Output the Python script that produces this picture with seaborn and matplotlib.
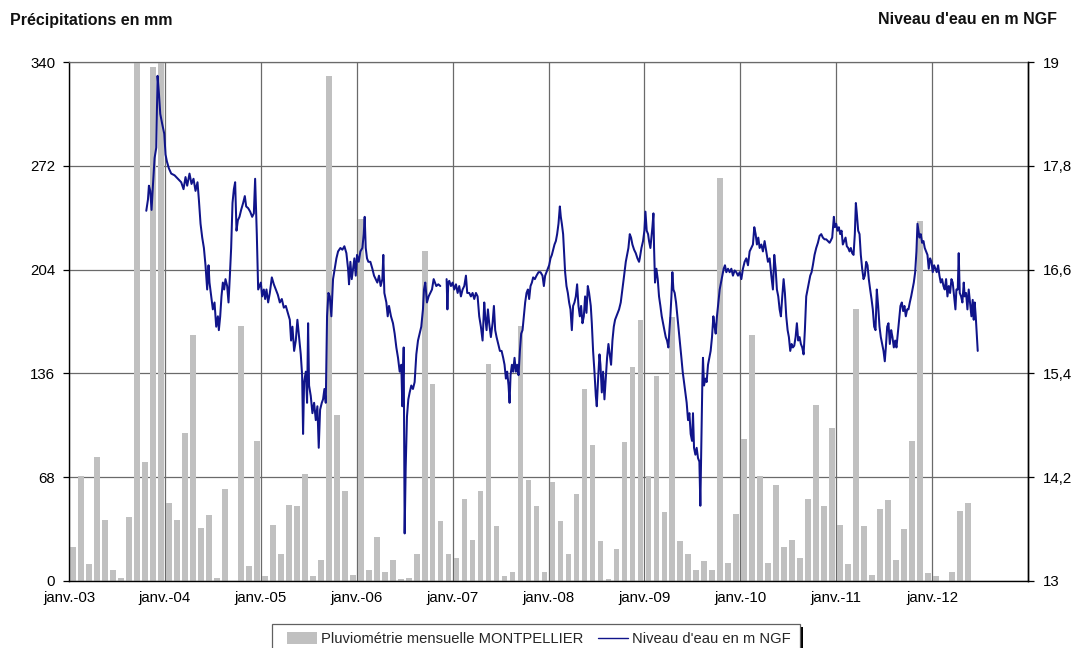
import numpy as np
import pandas as pd
import matplotlib
matplotlib.use("Agg")
import matplotlib.pyplot as plt
import seaborn as sns
from matplotlib.patches import Patch, Rectangle
from matplotlib.lines import Line2D

# ---------------- DATA ----------------
# Monthly rainfall at Montpellier (mm), Jan 2003 -> May 2012
rain_2003 = [22, 69, 11, 81, 40, 7, 2, 42, 340, 78, 337, 340]
rain_2004 = [51, 40, 97, 161, 35, 43, 2, 60, 0, 167, 10, 92]
rain_2005 = [3, 37, 18, 50, 49, 70, 3, 14, 331, 109, 59, 4]
rain_2006 = [237, 7, 29, 6, 14, 1, 2, 18, 216, 129, 39, 18]
rain_2007 = [15, 54, 27, 59, 142, 36, 3, 6, 167, 66, 49, 6]
rain_2008 = [65, 39, 18, 57, 126, 89, 26, 1, 21, 91, 140, 171]
rain_2009 = [69, 134, 45, 173, 26, 18, 7, 13, 7, 264, 12, 44]
rain_2010 = [93, 161, 69, 12, 63, 22, 27, 15, 54, 115, 49, 100]
rain_2011 = [37, 11, 178, 36, 4, 47, 53, 14, 34, 92, 236, 5]
rain_2012 = [3, 0, 6, 46, 51]
rainfall = (rain_2003 + rain_2004 + rain_2005 + rain_2006 + rain_2007 +
            rain_2008 + rain_2009 + rain_2010 + rain_2011 + rain_2012)

# Water level (m NGF); time in months elapsed since 1 Jan 2003 (NaN = data gap)
level_month = [
    9.67, 9.88, 10.0, 10.17, 10.33, 10.5, 10.71, 10.92, 11.08, 11.25, 11.42, 11.67, 11.92,
    12.08, 12.25, 12.5, 12.79, 13.21, 13.63, 14.04, 14.33, 14.58, 14.79, 15.08, 15.33, 15.58,
    15.83, 16.08, 16.25, 16.46, 16.67, 16.88, 17.08, 17.29, 17.46, 17.58, 17.79, 18.0, 18.21,
    18.42, 18.63, 18.75, 18.92, 19.08, 19.25, 19.42, 19.58, 19.79, 19.96, 20.13, 20.29, 20.46,
    20.63, 20.79, 20.96, 21.13, 21.33, 21.54, 21.79, 22.0, 22.17, 22.42, 22.67, 22.92, 23.13,
    23.29, 23.5, 23.67,
    24.0, 24.17, 24.38, 24.54, 24.71, 24.92, 25.13, 25.38, 25.63, 25.88, 26.13, 26.38, 26.63,
    26.88, 27.13, 27.38, 27.63, 27.79, 27.96, 28.17, 28.38, 28.58, 28.79, 29.0, 29.17, 29.29,
    29.42, 29.63, 29.79, 29.92, 30.04, 30.25, 30.46, 30.67, 30.88, 31.08, 31.25, 31.42, 31.63,
    31.79, 31.96, 32.13, 32.29, 32.46, 32.63, 32.83, 33.04, 33.25, 33.46, 33.67, 33.96, 34.21,
    34.46, 34.71, 34.92, 35.04, 35.21, 35.38, 35.54, 35.71, 35.88, 36.04, 36.25, 36.46, 36.71,
    36.88, 37.0, 37.13, 37.29, 37.46, 37.71, 37.96, 38.17, 38.38, 38.58, 38.79, 39.0, 39.21,
    39.33, 39.46, 39.71, 39.88, 40.04, 40.29, 40.54, 40.75, 40.96, 41.17, 41.38, 41.58, 41.71,
    41.88, 42.0, 42.13, 42.29, 42.46, 42.63, 42.83, 43.04, 43.25, 43.46, 43.67, 43.88, 44.08,
    44.29, 44.42, 44.58, 44.79, 45.0, 45.21, 45.42, 45.63, 45.79, 45.96, 46.21, 46.46,
    np.nan,
    47.25, 47.35, 47.46, 47.58, 47.79, 48.0, 48.21, 48.42, 48.63, 48.83, 49.04, 49.25, 49.46,
    49.67, 49.83, 50.08, 50.29, 50.5, 50.71, 50.92, 51.13, 51.33, 51.54, 51.75, 51.96, 52.08,
    52.25, 52.42, 52.58, 52.79, 53.0, 53.17, 53.33, 53.5, 53.71, 53.92, 54.13, 54.33, 54.5,
    54.67, 54.83, 55.0, 55.13, 55.25, 55.42, 55.58, 55.75, 55.92, 56.08, 56.25, 56.42, 56.58,
    56.75, 56.92, 57.08, 57.25, 57.42, 57.58, 57.75, 57.92, 58.08, 58.29, 58.5, 58.75, 59.0,
    59.25, 59.42, 59.58, 59.75, 59.92, 60.08, 60.25, 60.42, 60.58, 60.75, 60.92, 61.08, 61.25,
    61.42, 61.54, 61.67, 61.83, 61.96, 62.08, 62.25, 62.42, 62.58, 62.75, 62.92, 63.08, 63.25,
    63.42, 63.58, 63.75, 63.92, 64.08, 64.25, 64.42, 64.58, 64.75, 64.92, 65.08, 65.29, 65.42,
    65.58, 65.75, 65.92, 66.04, 66.21, 66.38, 66.5, 66.67, 66.83, 67.0, 67.17, 67.33, 67.5,
    67.67, 67.83, 68.0, 68.17, 68.33, 68.5, 68.67, 68.83, 69.04, 69.25, 69.46, 69.67, 69.83,
    70.0, 70.17, 70.33, 70.5, 70.71, 70.92, 71.13, 71.33,
    71.42, 71.63, 71.83, 72.0, 72.13, 72.29, 72.46, 72.58, 72.75, 72.88, 73.0, 73.13, 73.21,
    73.33, 73.5, 73.67, 73.83, 74.0, 74.17, 74.33, 74.5, 74.67, 74.83, 75.0, 75.13, 75.25,
    75.38, 75.5, 75.63, 75.79, 75.96, 76.13, 76.29, 76.46, 76.63, 76.79, 76.96, 77.13, 77.29,
    77.46, 77.63, 77.79, 77.96, 78.08, 78.21, 78.38, 78.54, 78.71, 78.88, 79.0, 79.13, 79.25,
    79.33, 79.46, 79.63, 79.79, 79.96, 80.13, 80.29, 80.46, 80.63, 80.79, 80.92, 81.08, 81.25,
    81.42, 81.58, 81.75, 81.92, 82.08, 82.25, 82.46, 82.67, 82.88, 83.08, 83.29, 83.5, 83.71,
    83.92, 84.13, 84.33, 84.54, 84.75, 84.96, 85.17, 85.38, 85.58, 85.75, 85.92, 86.08, 86.25,
    86.42, 86.63, 86.83, 87.04, 87.25, 87.46, 87.67, 87.88, 88.08, 88.25, 88.42, 88.58, 88.75,
    88.92, 89.08, 89.25, 89.42, 89.58, 89.75, 89.92, 90.08, 90.25, 90.42, 90.58, 90.75, 90.92,
    91.08, 91.25, 91.42, 91.58, 91.75, 91.92, 92.08, 92.25, 92.42, 92.58, 92.75, 92.92, 93.08,
    93.29, 93.5, 93.71, 93.92, 94.13, 94.33, 94.54, 94.75, 94.96, 95.17,
    95.29, 95.5, 95.71, 95.83, 96.0, 96.17, 96.33, 96.5, 96.67, 96.83, 97.0, 97.17, 97.33,
    97.5, 97.67, 97.83, 98.0, 98.17, 98.33, 98.46, 98.58, 98.75, 98.92, 99.08, 99.25, 99.42,
    99.58, 99.75, 99.92, 100.08, 100.25, 100.42, 100.58, 100.75, 100.92, 101.08, 101.25,
    101.42, 101.58, 101.75, 101.92, 102.08, 102.21, 102.38, 102.54, 102.71, 102.88, 103.04,
    103.21, 103.38, 103.54, 103.71, 103.88, 104.04, 104.21, 104.38, 104.54, 104.71, 104.88,
    105.04, 105.21, 105.38, 105.54, 105.71, 105.88, 106.04, 106.17, 106.29, 106.42, 106.58,
    106.75, 106.92, 107.08, 107.25, 107.42, 107.58, 107.75, 107.92, 108.08, 108.25, 108.42,
    108.58, 108.75, 108.92, 109.08, 109.25, 109.42, 109.58, 109.75, 109.92, 110.08, 110.25,
    110.42, 110.58, 110.75, 110.92, 111.04, 111.21, 111.33, 111.46, 111.63, 111.79, 111.96,
    112.08, 112.25, 112.42, 112.58, 112.75, 112.92, 113.08, 113.21, 113.33, 113.46, 113.58,
    113.71,
]
level_value = [
    17.28, 17.41, 17.57, 17.51, 17.29, 17.57, 17.89, 18.01, 18.84, 18.64, 18.40, 18.28, 18.17,
    17.93, 17.85, 17.77, 17.71, 17.69, 17.65, 17.61, 17.53, 17.67, 17.57, 17.71, 17.59, 17.65,
    17.51, 17.61, 17.41, 17.13, 16.97, 16.85, 16.65, 16.37, 16.65, 16.45, 16.29, 16.14, 16.22,
    15.94, 16.06, 15.90, 16.06, 16.29, 16.45, 16.37, 16.49, 16.41, 16.22, 16.53, 16.85, 17.37,
    17.53, 17.61, 17.05, 17.17, 17.21, 17.29, 17.37, 17.45, 17.33, 17.31, 17.27, 17.21, 17.25,
    17.65, 17.01, 16.37,
    16.45, 16.29, 16.37, 16.26, 16.37, 16.22, 16.33, 16.51, 16.43, 16.37, 16.31, 16.22, 16.26,
    16.16, 16.18, 16.10, 16.02, 15.78, 15.94, 15.66, 15.78, 16.02, 15.82, 15.62, 15.38, 14.70,
    15.30, 15.42, 15.06, 15.98, 15.26, 15.14, 14.94, 15.06, 14.86, 15.02, 14.54, 14.98, 15.06,
    15.10, 15.22, 15.06, 16.06, 16.33, 16.29, 16.06, 16.49, 16.61, 16.73, 16.81, 16.85, 16.83,
    16.87, 16.79, 16.61, 16.43, 16.69, 16.49, 16.61, 16.73, 16.53, 16.77, 16.69, 16.81, 16.85,
    17.01, 17.21, 16.85, 16.73, 16.69, 16.69, 16.61, 16.53, 16.49, 16.45, 16.53, 16.41, 16.49,
    16.77, 16.33, 16.22, 16.06, 16.18, 16.06, 15.98, 15.86, 15.70, 15.58, 15.42, 15.50, 15.02,
    15.70, 13.55, 14.31, 14.90, 15.10, 15.18, 15.26, 15.22, 15.30, 15.62, 15.78, 15.86, 15.94,
    16.14, 16.37, 16.45, 16.22, 16.29, 16.33, 16.37, 16.49, 16.45, 16.41, 16.43, 16.41,
    np.nan,
    16.49, 16.14, 16.45, 16.47, 16.41, 16.45, 16.37, 16.43, 16.33, 16.41, 16.29, 16.37, 16.41,
    16.53, 16.33, 16.33, 16.29, 16.33, 16.26, 16.33, 16.29, 16.06, 15.94, 15.78, 16.22, 16.06,
    15.90, 16.14, 15.98, 15.82, 15.98, 16.18, 15.90, 15.82, 15.74, 15.66, 15.66, 15.58, 15.50,
    15.34, 15.42, 15.26, 15.06, 15.38, 15.50, 15.42, 15.58, 15.42, 15.50, 15.38, 15.66, 15.86,
    15.90, 16.06, 16.22, 16.33, 16.37, 16.26, 16.41, 16.45, 16.51, 16.49, 16.53, 16.57, 16.57,
    16.53, 16.41, 16.53, 16.57, 16.61, 16.65, 16.73, 16.77, 16.83, 16.89, 16.93, 17.01, 17.13,
    17.33, 17.21, 17.13, 17.01, 16.77, 16.57, 16.41, 16.33, 16.22, 16.14, 15.90, 16.18, 16.22,
    16.29, 16.43, 16.18, 16.06, 16.18, 15.98, 16.06, 16.29, 16.10, 16.41, 16.33, 16.18, 15.98,
    15.66, 15.42, 15.14, 15.02, 15.34, 15.62, 15.50, 15.18, 15.42, 15.10, 15.34, 15.58, 15.74,
    15.62, 15.50, 15.78, 15.94, 16.02, 16.06, 16.10, 16.14, 16.22, 16.37, 16.53, 16.69, 16.77,
    16.85, 17.01, 16.97, 16.89, 16.83, 16.79, 16.73, 16.69,
    16.73, 16.85, 16.93, 17.05, 17.27, 17.05, 17.01, 16.93, 16.85, 16.97, 17.09, 17.25, 16.85,
    16.45, 16.61, 16.49, 16.29, 16.18, 16.06, 15.98, 15.90, 15.82, 15.78, 15.70, 15.90, 16.06,
    16.29, 16.57, 16.37, 16.33, 16.22, 16.06, 15.90, 15.74, 15.58, 15.42, 15.30, 15.18, 15.06,
    14.86, 14.94, 14.70, 14.62, 14.94, 14.54, 14.46, 14.54, 14.42, 14.38, 13.87, 14.62, 15.30,
    15.58, 15.26, 15.34, 15.30, 15.50, 15.58, 15.66, 15.82, 16.06, 15.94, 15.86, 16.06, 16.22,
    16.37, 16.45, 16.53, 16.61, 16.65, 16.57, 16.61, 16.57, 16.61, 16.53, 16.59, 16.57, 16.53,
    16.57, 16.49, 16.61, 16.69, 16.73, 16.65, 16.81, 16.85, 16.89, 17.09, 17.01, 16.89, 16.97,
    16.85, 16.89, 16.81, 16.93, 16.81, 16.69, 16.73, 16.53, 16.37, 16.77, 16.61, 16.37, 16.29,
    16.14, 16.06, 16.29, 16.49, 16.33, 16.06, 15.90, 15.82, 15.66, 15.74, 15.70, 15.72, 15.82,
    15.98, 15.78, 15.82, 15.74, 15.70, 15.62, 15.90, 16.29, 16.37, 16.45, 16.53, 16.57, 16.65,
    16.77, 16.85, 16.91, 16.99, 17.01, 16.97, 16.95, 16.95, 16.93, 16.91,
    16.93, 16.97, 17.21, 17.09, 17.13, 17.05, 17.09, 17.01, 17.05, 16.89, 16.93, 16.97, 16.87,
    16.85, 16.81, 16.85, 16.79, 16.77, 17.01, 17.37, 17.25, 17.05, 17.01, 16.77, 16.61, 16.49,
    16.53, 16.69, 16.65, 16.49, 16.37, 16.26, 16.14, 15.94, 15.90, 16.37, 16.18,
    15.94, 15.82, 15.74, 15.66, 15.54, 15.70, 15.94, 15.98, 15.74, 15.90, 15.82,
    15.70, 15.78, 15.70, 15.86, 16.02, 16.18, 16.22, 16.12, 16.18, 16.06, 16.14,
    16.14, 16.22, 16.29, 16.37, 16.45, 16.57, 16.81, 17.13, 17.05, 16.97, 17.01,
    16.91, 16.93, 16.85, 16.81, 16.77, 16.61, 16.73, 16.69, 16.57, 16.65, 16.61,
    16.57, 16.65, 16.53, 16.45, 16.49, 16.41, 16.37, 16.49, 16.29, 16.41, 16.33,
    16.49, 16.45, 16.29, 16.14, 16.37, 16.37, 16.79, 16.33, 16.29, 16.22, 16.45,
    16.29, 16.33, 16.14, 16.37, 16.22, 16.06, 16.25, 16.02, 16.22, 16.06, 15.86,
    15.66,
]

year_labels = ["janv.-03", "janv.-04", "janv.-05", "janv.-06", "janv.-07",
               "janv.-08", "janv.-09", "janv.-10", "janv.-11", "janv.-12"]
left_ticks = [0, 68, 136, 204, 272, 340]
right_ticks = [13, 14.2, 15.4, 16.6, 17.8, 19]
right_tick_labels = ["13", "14,2", "15,4", "16,6", "17,8", "19"]

rain_label = "Pluviométrie mensuelle MONTPELLIER"
level_label = "Niveau d'eau en m NGF"
left_title = "Précipitations en mm"
right_title = "Niveau d'eau en m NGF"

# ---------------- PLOT ----------------
sns.set_theme(style="white")
plt.rcParams["font.family"] = ["Liberation Sans", "DejaVu Sans"]

BAR_COLOR = "#c0c0c0"
LINE_COLOR = "#10148a"
GRID_COLOR = "#6a6a6a"
TICK_FS = 10.8

W, H = 1077, 648
fig = plt.figure(figsize=(W / 100, H / 100), dpi=100)
ax = fig.add_axes([69 / W, 1 - 581 / H, (1028 - 69) / W, (581 - 62) / H])

rain_df = pd.DataFrame({"idx": np.arange(len(rainfall)), "rain": rainfall})
sns.barplot(data=rain_df, x="idx", y="rain", color=BAR_COLOR, saturation=1,
            width=0.72, ax=ax, zorder=2)
for p in ax.patches:
    p.set_edgecolor("none")

ax.set_xlim(-0.5, 119.5)
ax.set_ylim(0, 340)
ax.set_yticks(left_ticks)
ax.set_yticklabels([str(v) for v in left_ticks])
ax.set_xticks([12 * k - 0.5 for k in range(len(year_labels))])
ax.set_xticklabels(year_labels)
ax.set_xlabel("")
ax.set_ylabel("")
ax.set_axisbelow(True)
ax.grid(True, axis="both", color=GRID_COLOR, linewidth=0.9)
ax.tick_params(axis="y", direction="out", length=4, width=0.9,
               colors="black", labelsize=TICK_FS, pad=6)
ax.tick_params(axis="x", direction="out", length=4, width=0.9,
               colors="black", labelsize=TICK_FS, pad=3)
for side in ["left", "bottom", "right"]:
    ax.spines[side].set_visible(True)
    ax.spines[side].set_color("black")
    ax.spines[side].set_linewidth(1.0)
ax.spines["top"].set_visible(True)
ax.spines["top"].set_color(GRID_COLOR)
ax.spines["top"].set_linewidth(0.9)

# Water level on the right axis
ax2 = ax.twinx()
lvl = pd.DataFrame({"month": level_month, "level": level_value})
lvl["segment"] = lvl["month"].isna().cumsum()
lvl = lvl.dropna()
lvl["x"] = lvl["month"] - 0.5
sns.lineplot(data=lvl, x="x", y="level", units="segment", estimator=None, sort=False,
             color=LINE_COLOR, linewidth=1.45, ax=ax2)
ax2.set_ylim(13, 19)
ax2.set_yticks(right_ticks)
ax2.set_yticklabels(right_tick_labels)
ax2.set_xlim(-0.5, 119.5)
ax2.set_xlabel("")
ax2.set_ylabel("")
ax2.grid(False)
ax2.tick_params(axis="y", direction="out", length=4, width=0.9, colors="black",
                labelsize=TICK_FS, pad=7)
for side in ["left", "bottom", "top"]:
    ax2.spines[side].set_visible(False)
ax2.spines["right"].set_visible(True)
ax2.spines["right"].set_color("black")
ax2.spines["right"].set_linewidth(1.0)

# Axis titles
fig.text(10 / W, 1 - 20 / H, left_title, ha="left", va="center",
         fontsize=11.5, fontweight="bold", color="#111111")
fig.text(1057 / W, 1 - 20 / H, right_title, ha="right", va="center",
         fontsize=11.5, fontweight="bold", color="#111111")

# Legend box (frame with dark shadow on the right), then legend content
fig.patches.append(Rectangle((275 / W, 0), (528 / W), (648 - 627) / H,
                             transform=fig.transFigure, facecolor="black",
                             edgecolor="none", zorder=1))
fig.patches.append(Rectangle((272 / W, -0.01), (528 / W), (648 - 624) / H + 0.01,
                             transform=fig.transFigure, facecolor="white",
                             edgecolor="#606060", linewidth=0.9, zorder=2))
handles = [Patch(facecolor=BAR_COLOR, edgecolor="none"),
           Line2D([0], [0], color=LINE_COLOR, linewidth=1.0)]
leg = fig.legend(handles, [rain_label, level_label], loc="center left",
                 bbox_to_anchor=(287 / W, 1 - 639 / H), ncol=2, frameon=False,
                 fontsize=10.6, handlelength=2.05, handleheight=0.8, handletextpad=0.27,
                 columnspacing=0.95, borderpad=0.0, borderaxespad=0.0)
leg.set_zorder(3)

fig.savefig("out.png", dpi=100, facecolor="white")
